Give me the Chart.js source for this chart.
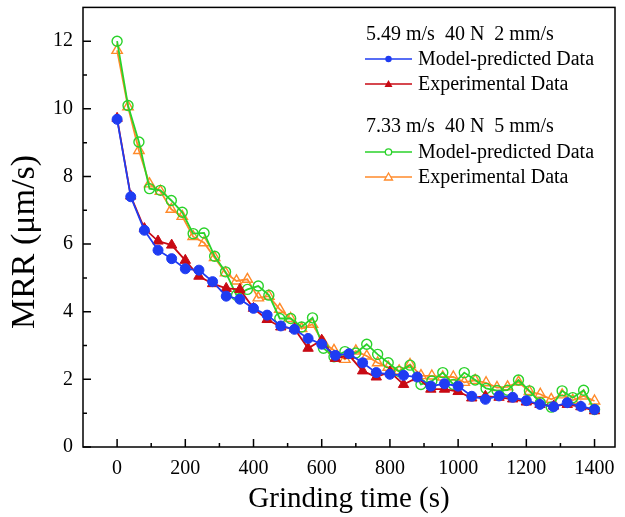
<!DOCTYPE html>
<html>
<head>
<meta charset="utf-8">
<script src="https://cdn.jsdelivr.net/npm/chart.js@4"></script>
<style>
  html, body { margin:0; padding:0; background:#fff; }
  #wrap { width:625px; height:517px; }
</style>
</head>
<body>
<div id="wrap"><canvas id="mrrChart" width="625" height="517"></canvas></div>
<script>
// Condition 1: 5.49 m/s 40 N 2 mm/s (sampled every 40 s)
const timeA = [0,40,80,120,160,200,240,280,320,360,400,440,480,520,560,600,640,680,720,760,800,840,880,920,960,1000,1040,1080,1120,1160,1200,1240,1280,1320,1360,1400];
const modelA = [9.69,7.40,6.41,5.82,5.57,5.27,5.23,4.89,4.46,4.37,4.10,3.90,3.58,3.48,3.21,3.04,2.71,2.76,2.49,2.20,2.15,2.12,2.07,1.80,1.87,1.80,1.50,1.41,1.51,1.47,1.37,1.26,1.19,1.31,1.20,1.11];
const expA   = [9.72,7.42,6.46,6.09,5.97,5.52,5.05,4.83,4.69,4.66,4.10,3.77,3.55,3.50,2.92,3.16,2.62,2.71,2.25,2.07,2.22,1.85,2.05,1.71,1.71,1.64,1.45,1.50,1.47,1.42,1.33,1.26,1.21,1.26,1.19,1.07];

// Condition 2: 7.33 m/s 40 N 5 mm/s
const timeB = [0,32,64,95,127,159,191,223,255,286,318,350,382,414,445,477,509,541,573,605,636,668,700,732,764,795,827,859,891,923,955,986,1018,1050,1082,1114,1145,1177,1209,1241,1273,1305,1336,1368,1400];
const modelB = [12.00,10.10,9.02,7.64,7.59,7.29,6.94,6.31,6.33,5.64,5.18,4.49,4.66,4.76,4.49,3.80,3.80,3.55,3.82,2.92,2.67,2.82,2.78,3.04,2.74,2.49,2.23,2.42,1.85,1.95,2.20,1.85,2.20,1.98,1.73,1.67,1.68,1.98,1.66,1.31,1.18,1.66,1.46,1.68,1.11];
const expB   = [11.73,10.06,8.77,7.78,7.56,7.03,6.82,6.22,6.04,5.60,5.15,4.91,4.96,4.41,4.46,4.07,3.80,3.50,3.63,3.08,2.86,2.59,2.84,2.69,2.49,2.36,2.25,2.44,2.11,2.10,2.07,2.07,1.91,1.97,1.90,1.76,1.78,1.92,1.64,1.56,1.41,1.54,1.38,1.51,1.36];

const xTicks = [0,200,400,600,800,1000,1200,1400];
const xMinor = [100,300,500,700,900,1100,1300];
const yTicks = [0,2,4,6,8,10,12];
const yMinor = [1,3,5,7,9,11];

const SERIF = "'Liberation Serif', 'Times New Roman', serif";
const BLUE = '#1f3cf2', RED = '#c80a14', GREEN = '#2ad22a', ORANGE = '#ff8a2a';

const pts = (xs, ys) => xs.map((x, i) => ({ x, y: ys[i] }));

const series = [
    { label:'Model-predicted Data', data:pts(timeA, modelA), color:BLUE,   style:'circle',   fill:true  },
    { label:'Experimental Data',    data:pts(timeA, expA),   color:RED,    style:'triangle', fill:true  },
    { label:'Model-predicted Data', data:pts(timeB, modelB), color:GREEN,  style:'circle',   fill:false },
    { label:'Experimental Data',    data:pts(timeB, expB),   color:ORANGE, style:'triangle', fill:false }
];

// inward ticks, box, y title and the custom two-group legend
const framePlugin = {
    id: 'frame',
    afterDraw(chart) {
        const { ctx, chartArea: a, scales: { x, y } } = chart;
        ctx.save();
        ctx.strokeStyle = '#000';
        ctx.lineWidth = 1.5;
        ctx.strokeRect(a.left, a.top, a.right - a.left, a.bottom - a.top);
        ctx.beginPath();
        xTicks.forEach(v => { const p = x.getPixelForValue(v); ctx.moveTo(p, a.bottom); ctx.lineTo(p, a.bottom - 8); });
        xMinor.forEach(v => { const p = x.getPixelForValue(v); ctx.moveTo(p, a.bottom); ctx.lineTo(p, a.bottom - 4); });
        yTicks.forEach(v => { const p = y.getPixelForValue(v); ctx.moveTo(a.left, p); ctx.lineTo(a.left + 8, p); });
        yMinor.forEach(v => { const p = y.getPixelForValue(v); ctx.moveTo(a.left, p); ctx.lineTo(a.left + 4, p); });
        ctx.stroke();

        // y axis title (placed a bit below the axis centre, as in the original)
        ctx.save();
        ctx.translate(25, 242);
        ctx.rotate(-Math.PI / 2);
        ctx.font = `34px ${SERIF}`;
        ctx.fillStyle = '#000';
        ctx.textAlign = 'center';
        ctx.textBaseline = 'middle';
        ctx.fillText('MRR (μm/s)', 0, 0);
        ctx.restore();

        // legend
        ctx.font = `20px ${SERIF}`;
        ctx.fillStyle = '#000';
        ctx.textBaseline = 'middle';
        ctx.textAlign = 'left';
        const rows = [
            { head:'5.49 m/s  40 N  2 mm/s', y:35 },
            { s:series[0], y:59 },
            { s:series[1], y:84 },
            { head:'7.33 m/s  40 N  5 mm/s', y:127 },
            { s:series[2], y:152 },
            { s:series[3], y:177 }
        ];
        rows.forEach(r => {
            if (r.head) { ctx.fillStyle = '#000'; ctx.fillText(r.head, 366, r.y); return; }
            const s = r.s;
            ctx.strokeStyle = s.color;
            ctx.lineWidth = 1.5;
            ctx.beginPath(); ctx.moveTo(365, r.y); ctx.lineTo(412, r.y); ctx.stroke();
            ctx.beginPath();
            if (s.style === 'circle') ctx.arc(388.5, r.y, 3.2, 0, Math.PI * 2);
            else { ctx.moveTo(388.5, r.y - 4); ctx.lineTo(392.5, r.y + 3); ctx.lineTo(384.5, r.y + 3); ctx.closePath(); }
            if (s.fill) { ctx.fillStyle = s.color; ctx.fill(); }
            else { ctx.fillStyle = '#fff'; ctx.fill(); ctx.lineWidth = 1.3; ctx.stroke(); }
            ctx.fillStyle = '#000';
            ctx.fillText(s.label, 418, r.y + 1);
        });
        ctx.restore();
    }
};

new Chart(document.getElementById('mrrChart'), {
    type: 'line',
    data: {
        datasets: series.map(s => ({
            label: s.label,
            data: s.data,
            borderColor: s.color,
            borderWidth: 1.8,
            pointStyle: s.style,
            pointRadius: s.style === 'circle' ? 5 : 6,
            pointBorderWidth: s.fill ? 1 : 1.4,
            pointBackgroundColor: s.fill ? s.color : 'rgba(255,255,255,0)',
            pointBorderColor: s.color,
            tension: 0,
            fill: false
        }))
    },
    options: {
        responsive: false,
        animation: false,
        layout: { padding: { left: 3, right: 10, top: 7, bottom: 0 } },
        plugins: { legend: { display: false }, tooltip: { enabled: false } },
        scales: {
            x: {
                type: 'linear', min: -100, max: 1460,
                afterBuildTicks: sc => { sc.ticks = xTicks.map(v => ({ value: v })); },
                afterFit: sc => { sc.height = 70; sc.paddingLeft = 0; sc.paddingRight = 0; },
                grid: { display: false, drawTicks: false },
                border: { display: false },
                ticks: { color: '#000', font: { family: SERIF, size: 20 }, padding: 10, maxRotation: 0, callback: v => String(v) },
                title: { display: true, text: 'Grinding time (s)', color: '#000', font: { family: SERIF, size: 29 }, padding: { top: 0, bottom: 0 } }
            },
            y: {
                type: 'linear', min: 0, max: 13,
                afterBuildTicks: sc => { sc.ticks = yTicks.map(v => ({ value: v })); },
                afterFit: sc => { sc.width = 80; sc.paddingTop = 0; sc.paddingBottom = 0; },
                grid: { display: false, drawTicks: false },
                border: { display: false },
                ticks: { color: '#000', font: { family: SERIF, size: 20 }, padding: 10, callback: v => String(v) },
                title: { display: false }
            }
        }
    },
    plugins: [framePlugin]
});
</script>
</body>
</html>
